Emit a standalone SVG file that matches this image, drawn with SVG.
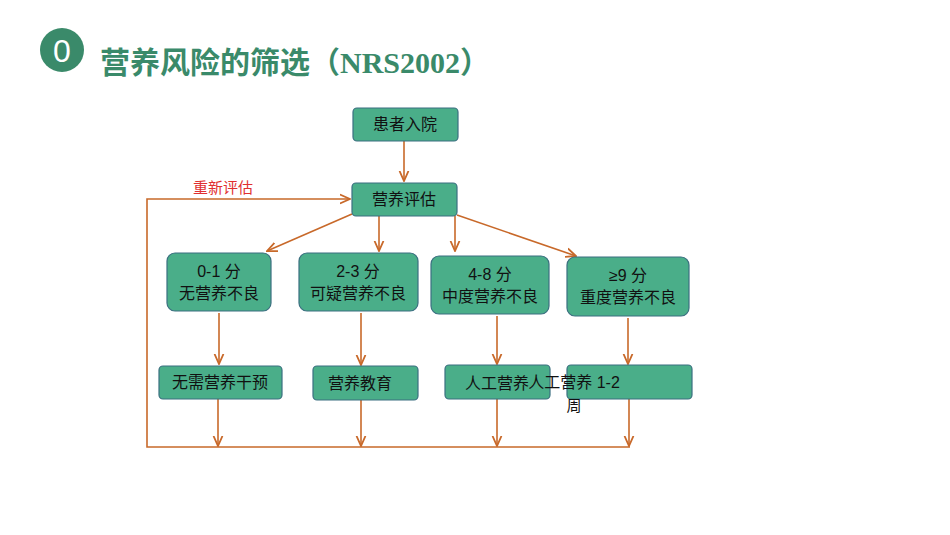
<svg xmlns="http://www.w3.org/2000/svg" width="950" height="535" viewBox="0 0 950 535">
<defs>
<style>
.n{fill:#4aae89;stroke:#3b6f80;stroke-width:1.2}
.t{font-family:"Liberation Sans","Noto Sans CJK SC",sans-serif;font-size:16px;fill:#111;text-anchor:middle}
.c{stroke:#c8692a;stroke-width:1.6;fill:none}
</style>
<marker id="a" viewBox="0 0 10 10" refX="9" refY="5" markerWidth="7" markerHeight="7" orient="auto"><path d="M0,1 L9,5 L0,9" fill="none" stroke="#c8692a" stroke-width="1.6"/></marker>
</defs>
<rect width="950" height="535" fill="#fff"/>
<g id="title">
<circle cx="62" cy="50" r="22" fill="#3a8a6a"/>
<text x="62" y="62" font-family="Liberation Sans,sans-serif" font-size="32" fill="#fff" text-anchor="middle">0</text>
<text x="100" y="73" font-family="Liberation Serif,'Noto Sans CJK SC',serif" font-weight="bold" font-size="30" fill="#3a8a6a">营养风险的筛选（NRS2002）</text>
</g>
<g id="connectors">
<path class="c" d="M404,141 V181" marker-end="url(#a)"/>
<path class="c" d="M352,214 L267,251" marker-end="url(#a)"/>
<path class="c" d="M379,216 V251" marker-end="url(#a)"/>
<path class="c" d="M455,216 V251" marker-end="url(#a)"/>
<path class="c" d="M457,215 L576,256" marker-end="url(#a)"/>
<path class="c" d="M219,313 V364" marker-end="url(#a)"/>
<path class="c" d="M361,313 V365" marker-end="url(#a)"/>
<path class="c" d="M497,316 V364" marker-end="url(#a)"/>
<path class="c" d="M628,318 V364" marker-end="url(#a)"/>
<path class="c" d="M218,399 V446" marker-end="url(#a)"/>
<path class="c" d="M361,400 V446" marker-end="url(#a)"/>
<path class="c" d="M497,399 V446" marker-end="url(#a)"/>
<path class="c" d="M629,399 V446" marker-end="url(#a)"/>
<path class="c" d="M630,447 H147 V199 H350" marker-end="url(#a)"/>
<text x="193" y="193" font-family="Liberation Serif,'Noto Sans CJK SC',serif" font-size="15" fill="#e03030">重新评估</text>
</g>
<g id="n1"><rect class="n" x="353" y="108" width="105" height="33" rx="4"/><text class="t" x="405" y="130">患者入院</text></g>
<g id="n2"><rect class="n" x="352" y="183" width="105" height="33" rx="4"/><text class="t" x="404" y="205">营养评估</text></g>
<g id="n3"><rect class="n" x="167" y="253" width="104" height="58" rx="8"/><text class="t" x="219" y="277">0-1 分</text><text class="t" x="219" y="299">无营养不良</text></g>
<g id="n4"><rect class="n" x="299" y="253" width="119" height="58" rx="8"/><text class="t" x="358" y="277">2-3 分</text><text class="t" x="358" y="299">可疑营养不良</text></g>
<g id="n5"><rect class="n" x="431" y="256" width="118" height="58" rx="8"/><text class="t" x="490" y="280">4-8 分</text><text class="t" x="490" y="302">中度营养不良</text></g>
<g id="n6"><rect class="n" x="567" y="257" width="122" height="59" rx="8"/><text class="t" x="628" y="281">≥9 分</text><text class="t" x="628" y="303">重度营养不良</text></g>
<g id="n7"><rect class="n" x="159" y="366" width="123" height="33" rx="4"/><text class="t" x="220" y="388">无需营养干预</text></g>
<g id="n8"><rect class="n" x="313" y="366" width="105" height="34" rx="4"/><text class="t" x="360" y="389">营养教育</text></g>
<g id="n9"><rect class="n" x="445" y="365" width="105" height="34" rx="4"/><text class="t" x="497" y="389">人工营养</text></g>
<g id="n10"><rect class="n" x="567" y="365" width="125" height="34" rx="4"/><text class="t" x="574" y="388" text-anchor="start">人工营养 1-2</text><text class="t" x="574" y="411" text-anchor="start" style="font-size:15px">周</text></g>
</svg>
